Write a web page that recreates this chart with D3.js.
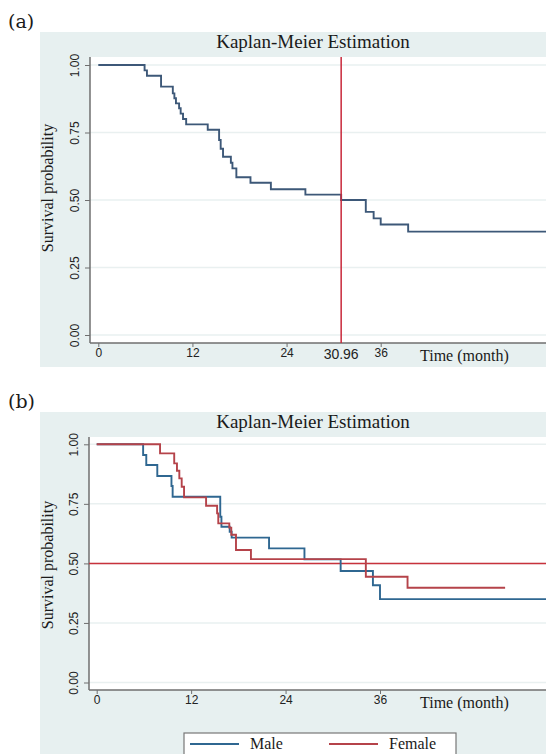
<!DOCTYPE html>
<html>
<head>
<meta charset="utf-8">
<script src="https://cdn.jsdelivr.net/npm/d3@7"></script>
<style>
  body { margin: 0; background: #fff; }
  .serif { font-family: "Liberation Serif", "Times New Roman", serif; fill: #1a1a1a; }
  .tick text { font-family: "Liberation Sans", Arial, sans-serif; fill: #222; }
</style>
</head>
<body>
<svg id="chart" width="546" height="754"></svg>
<script>
// axis ticks
const monthTicks = [0, 12, 24, 36];
const probTicks = [0, 0.25, 0.5, 0.75, 1];

// (a) overall Kaplan-Meier curve (month, survival)
const allTime = [0, 5.9, 6.2, 8.0, 9.5, 9.7, 9.9, 10.3, 10.5, 10.8, 11.2, 13.95, 15.4, 15.6, 15.9,
  16.9, 17.1, 17.6, 19.4, 22.0, 26.4, 30.96, 34.1, 35.1, 36.0, 39.5, 58];
const allSurv = [1, 0.98, 0.96, 0.92, 0.895, 0.877, 0.858, 0.84, 0.82, 0.80, 0.78, 0.76, 0.722, 0.69, 0.66,
  0.638, 0.617, 0.584, 0.564, 0.54, 0.52, 0.50, 0.456, 0.432, 0.409, 0.383, 0.383];
const medianMonth = 30.96;

// (b) by sex
const maleTime = [0, 5.9, 6.3, 7.7, 9.5, 9.65, 15.7, 15.85, 16.9, 17.15, 21.9, 26.4, 31.0, 35.1, 36.0, 58];
const maleSurv = [1, 0.955, 0.913, 0.867, 0.825, 0.78, 0.696, 0.654, 0.633, 0.608, 0.563, 0.517, 0.468, 0.408, 0.35, 0.35];
const femaleTime = [0, 8.05, 9.85, 10.2, 10.5, 10.8, 11.1, 13.9, 15.3, 15.45, 16.85, 17.1, 17.7, 19.6, 34.2, 39.5, 51.9];
const femaleSurv = [1, 0.962, 0.92, 0.889, 0.857, 0.822, 0.777, 0.742, 0.71, 0.668, 0.65, 0.62, 0.556, 0.518, 0.444, 0.398, 0.398];
const halfSurv = 0.5;

const legendNames = ["Male", "Female"];

const svg = d3.select("#chart");

const bgColor = "#e7f0f0";
const gridColor = "#e9f0f0";
const axisColor = "#6f6f6f";

const toPoints = (t, s) => t.map((v, i) => ({ t: v, s: s[i] }));

// one Stata-like panel: bg box, white plot region, axes, grid
const drawPanel = function (conf) {
  const g = svg.append("g");

  g.append("rect")
    .attr("x", conf.bg.x).attr("y", conf.bg.y)
    .attr("width", conf.bg.w).attr("height", conf.bg.h)
    .attr("fill", bgColor);

  g.append("text")
    .attr("class", "serif")
    .attr("x", 8).attr("y", conf.bg.y - 4)
    .style("font-family", "'DejaVu Serif', serif")
    .style("font-size", "19px")
    .text(conf.tag);

  g.append("rect")
    .attr("x", conf.plot.x).attr("y", conf.plot.y)
    .attr("width", 546 - conf.plot.x).attr("height", conf.plot.bottom - conf.plot.y)
    .attr("fill", "#fff");

  const x = d3.scaleLinear().domain([0, 36]).range(conf.xRange);
  const y = d3.scaleLinear().domain([0, 1]).range(conf.yRange);

  // grid
  g.selectAll(".grid")
    .data(probTicks)
    .enter()
    .append("line")
      .attr("x1", conf.plot.x).attr("x2", 546)
      .attr("y1", d => y(d)).attr("y2", d => y(d))
      .attr("stroke", gridColor)
      .attr("stroke-width", 1.5);

  g.append("text")
    .attr("class", "serif")
    .attr("x", 313).attr("y", conf.bg.y + 16)
    .attr("text-anchor", "middle")
    .style("font-size", "19px")
    .text("Kaplan-Meier Estimation");

  const yAxis = d3.axisLeft(y)
    .tickValues(probTicks)
    .tickFormat(d3.format(".2f"))
    .tickSize(5);

  const yAxisG = g.append("g")
    .attr("transform", `translate(${conf.plot.x}, 0)`)
    .call(yAxis);
  yAxisG.select(".domain").remove();
  yAxisG.append("line")
    .attr("x1", 0).attr("x2", 0)
    .attr("y1", conf.plot.y).attr("y2", conf.plot.bottom)
    .attr("stroke", axisColor).attr("stroke-width", 1.5);
  yAxisG.selectAll(".tick line").attr("stroke", axisColor);
  // rotate labels about their own tick
  yAxisG.selectAll(".tick text")
    .style("font-size", "12px")
    .attr("text-anchor", "middle")
    .attr("transform", "rotate(-90)")
    .attr("dy", 0)
    .attr("x", 0)
    .attr("y", -11);

  const xAxis = d3.axisBottom(x)
    .tickValues(monthTicks)
    .tickFormat(d3.format("d"))
    .tickSize(4)
    .tickPadding(1);

  const xAxisG = g.append("g")
    .attr("transform", `translate(0, ${conf.plot.bottom})`)
    .call(xAxis);
  xAxisG.select(".domain").remove();
  xAxisG.append("line")
    .attr("x1", conf.plot.x).attr("x2", 546)
    .attr("stroke", axisColor).attr("stroke-width", 1.5);
  xAxisG.selectAll(".tick line").attr("stroke", axisColor);
  xAxisG.selectAll(".tick text").style("font-size", "12px");

  g.append("text")
    .attr("class", "serif")
    .attr("x", 420).attr("y", conf.plot.bottom + 18)
    .style("font-size", "16px")
    .text("Time (month)");

  g.append("text")
    .attr("class", "serif")
    .attr("transform", `translate(53, ${conf.yLabelY}) rotate(-90)`)
    .attr("text-anchor", "middle")
    .style("font-size", "16px")
    .text("Survival probability");

  return { g: g, x: x, y: y };
};

const stepLine = (x, y) => d3.line()
  .curve(d3.curveStepAfter)
  .x(d => x(d.t))
  .y(d => y(d.s));

// ---- panel (a)
const pa = drawPanel({
  tag: "(a)",
  bg: { x: 40, y: 32, w: 506, h: 335 },
  plot: { x: 90, y: 57, bottom: 343 },
  xRange: [98.3, 380.7],
  yRange: [335, 65],
  yLabelY: 188
});

pa.g.append("path")
  .datum(toPoints(allTime, allSurv))
  .attr("d", stepLine(pa.x, pa.y))
  .attr("fill", "none")
  .attr("stroke", "#3d5878")
  .attr("stroke-width", 1.9);

pa.g.append("line")
  .attr("x1", pa.x(medianMonth)).attr("x2", pa.x(medianMonth))
  .attr("y1", 57).attr("y2", 343)
  .attr("stroke", "#c8283a")
  .attr("stroke-width", 1.5);

pa.g.append("text")
  .attr("x", pa.x(medianMonth)).attr("y", 343 + 16)
  .attr("text-anchor", "middle")
  .style("font-family", "'Liberation Sans', Arial, sans-serif")
  .style("font-size", "14px")
  .attr("fill", "#222")
  .text(d3.format(".2f")(medianMonth));

// ---- panel (b)
const pb = drawPanel({
  tag: "(b)",
  bg: { x: 40, y: 412, w: 506, h: 342 },
  plot: { x: 89, y: 437, bottom: 690 },
  xRange: [96.7, 380],
  yRange: [682.5, 444.3],
  yLabelY: 565
});

const colors = d3.scaleOrdinal()
  .domain(legendNames)
  .range(["#2f6791", "#b5434a"]);

pb.g.append("line")
  .attr("x1", 89).attr("x2", 546)
  .attr("y1", pb.y(halfSurv)).attr("y2", pb.y(halfSurv))
  .attr("stroke", "#c8323c")
  .attr("stroke-width", 1.5);

const sexSeries = [
  { name: "Male", values: toPoints(maleTime, maleSurv) },
  { name: "Female", values: toPoints(femaleTime, femaleSurv) }
];

pb.g.selectAll(".km")
  .data(sexSeries)
  .enter()
  .append("path")
    .attr("d", d => stepLine(pb.x, pb.y)(d.values))
    .attr("fill", "none")
    .attr("stroke", d => colors(d.name))
    .attr("stroke-width", 1.9);

// legend box, partly cut by the bottom edge
const legend = pb.g.append("g");
legend.append("rect")
  .attr("x", 184).attr("y", 733)
  .attr("width", 272).attr("height", 40)
  .attr("fill", "#fff")
  .attr("stroke", "#777")
  .attr("stroke-width", 1.2);

const legendX = [190, 329];
legend.selectAll(".item")
  .data(legendNames)
  .enter()
  .append("g")
    .attr("transform", (d, i) => `translate(${legendX[i]}, 744)`)
    .each(function (d) {
      const it = d3.select(this);
      it.append("line")
        .attr("x1", 0).attr("x2", 49)
        .attr("stroke", colors(d)).attr("stroke-width", 1.8);
      it.append("text")
        .attr("class", "serif")
        .attr("x", 60).attr("y", 5)
        .style("font-size", "16px")
        .text(d);
    });
</script>
</body>
</html>
